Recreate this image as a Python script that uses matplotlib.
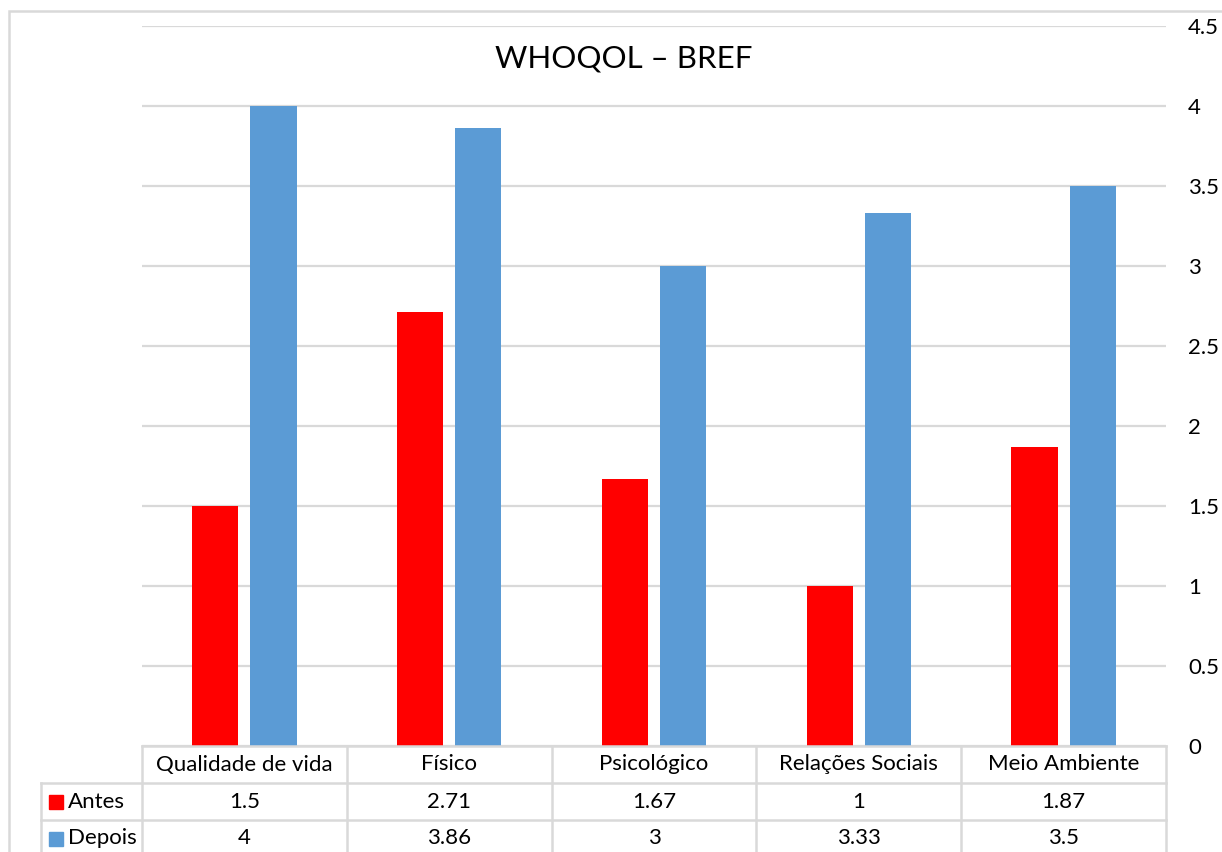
import matplotlib.pyplot as plt
import numpy as np
from matplotlib.patches import Rectangle
from matplotlib.lines import Line2D

categories = ['Qualidade de vida', 'Físico', 'Psicológico', 'Relações Sociais', 'Meio Ambiente']
antes = [1.5, 2.71, 1.67, 1, 1.87]
depois = [4, 3.86, 3, 3.33, 3.5]
series_names = ['Antes', 'Depois']
colors = ['#FF0000', '#5B9BD5']
yticks = [0, 0.5, 1, 1.5, 2, 2.5, 3, 3.5, 4, 4.5]

plt.rcParams['font.family'] = ['Lato', 'DejaVu Sans']
GRID = '#d9d9d9'
FS = 16

W, H = 1222, 852
fig = plt.figure(figsize=(W / 100, H / 100), dpi=100)

# plot area in pixel units
left, top, right, bottom = 142, 26, 1166, 746
ax = fig.add_axes([left / W, 1 - bottom / H, (right - left) / W, (bottom - top) / H])

x = np.arange(len(categories))
bw = 0.225
off = 0.142
ax.bar(x - off, antes, bw, color=colors[0], zorder=3)
ax.bar(x + off, depois, bw, color=colors[1], zorder=3)

ax.set_xlim(-0.5, len(categories) - 0.5)
ax.set_ylim(0, 4.5)
ax.set_yticks(yticks)
ax.set_yticklabels([f'{t:g}' for t in yticks], fontsize=FS)
ax.yaxis.tick_right()
ax.tick_params(axis='y', length=0, pad=16)
ax.set_xticks([])
ax.grid(axis='y', color=GRID, linewidth=1.6, zorder=0)
for s in ax.spines.values():
    s.set_visible(False)

fig.text(624 / W, 1 - 58 / H, 'WHOQOL – BREF', ha='center', va='center', fontsize=22.5)

# data table below the axis, in pixel coordinates
def px(xp, yp):
    return xp / W, 1 - yp / H

row_h = 37
col_edges = np.linspace(left, right, len(categories) + 1)
rows_y = [bottom, bottom + row_h, bottom + 2 * row_h, bottom + 3 * row_h]
label_left = 41

def hline(x0, x1, y):
    fig.add_artist(Line2D([x0 / W, x1 / W], [1 - y / H, 1 - y / H], color=GRID, lw=1.8))

def vline(xp, y0, y1):
    fig.add_artist(Line2D([xp / W, xp / W], [1 - y0 / H, 1 - y1 / H], color=GRID, lw=1.8))

hline(left, right, rows_y[0])
hline(label_left, right, rows_y[1])
hline(label_left, right, rows_y[2])
for ce in col_edges:
    vline(ce, rows_y[0], H + 5)
vline(label_left, rows_y[1], H + 5)

for i, cat in enumerate(categories):
    cx = 0.5 * (col_edges[i] + col_edges[i + 1])
    fig.text(*px(cx, rows_y[0] + row_h / 2), cat, ha='center', va='center', fontsize=FS)
    for r, vals in enumerate([antes, depois]):
        fig.text(*px(cx, rows_y[r + 1] + row_h / 2), f'{vals[i]:g}', ha='center', va='center', fontsize=FS)

for r, name in enumerate(series_names):
    yc = rows_y[r + 1] + row_h / 2
    fig.add_artist(Rectangle(px(49, yc + 7), 14 / W, 14 / H, color=colors[r]))
    fig.text(*px(68, yc), name, ha='left', va='center', fontsize=FS)

# chart border
fig.add_artist(Rectangle(px(9, H + 20), (W + 20) / W, (H + 9) / H, fill=False, edgecolor=GRID, lw=1.8))

fig.savefig('out.png', dpi=100)
